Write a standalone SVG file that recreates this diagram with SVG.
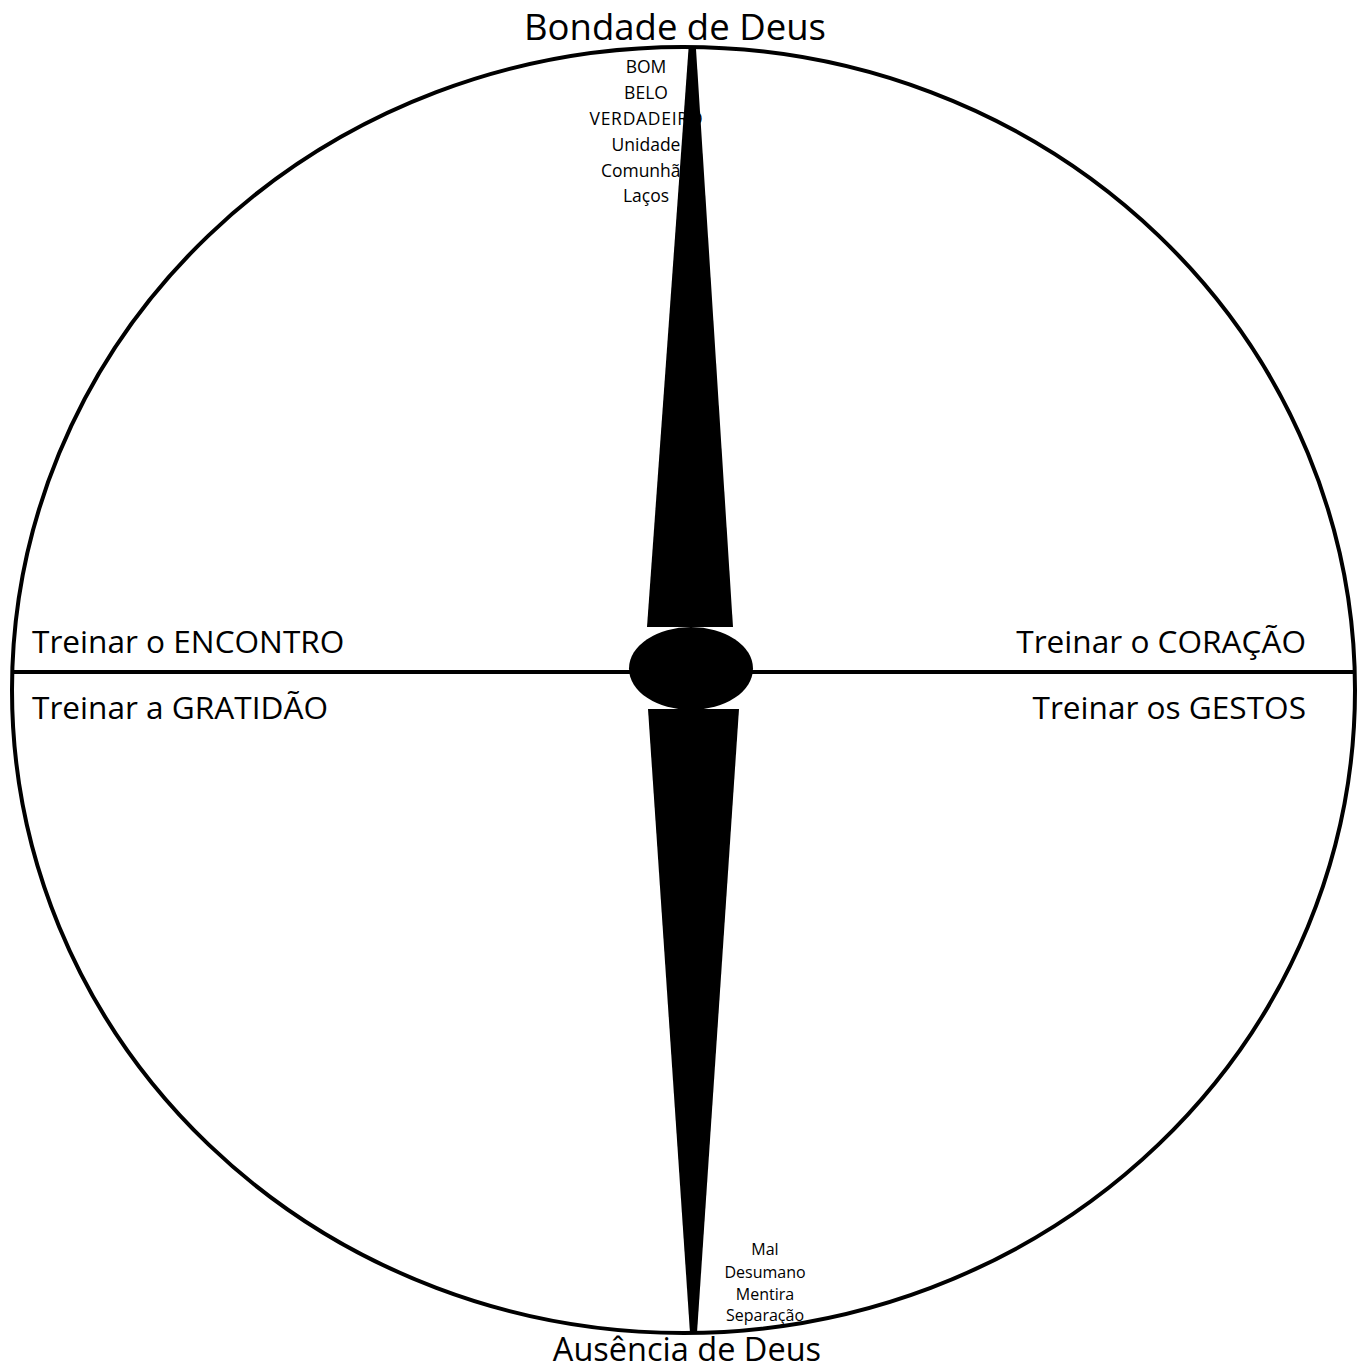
<svg xmlns="http://www.w3.org/2000/svg" width="1363" height="1369" viewBox="0 0 1363 1369">
<style>
text{font-family:"Open Sans","Noto Sans","Liberation Sans",sans-serif;fill:#000}
.mid{font-size:31.6px}
.sm{font-size:17.5px;text-anchor:middle}
.xs{font-size:16px;text-anchor:middle}
.ln{fill:none;stroke:#000;stroke-width:4}
</style>
<rect width="1363" height="1369" fill="#fff"/>
<g id="top-labels">
<text class="sm" x="646" y="73">BOM</text>
<text class="sm" x="646" y="99">BELO</text>
<text class="sm" x="646" y="125" textLength="113" lengthAdjust="spacing">VERDADEIRO</text>
<text class="sm" x="646" y="151">Unidade</text>
<text class="sm" x="646" y="177">Comunhão</text>
<text class="sm" x="646" y="202">Laços</text>
</g>
<g id="bottom-labels">
<text class="xs" x="765" y="1255">Mal</text>
<text class="xs" x="765" y="1278">Desumano</text>
<text class="xs" x="765" y="1300">Mentira</text>
<text class="xs" x="765" y="1321">Separação</text>
</g>
<g id="connectors">
<ellipse class="ln" cx="683.5" cy="690" rx="671.5" ry="643"/>
<line class="ln" x1="12" y1="672" x2="1355" y2="672"/>
</g>
<g id="needle">
<polygon points="688.5,49 696,49 733,627 647,627" fill="#000"/>
<polygon points="648,709 739,709 697,1333 690,1333" fill="#000"/>
<ellipse cx="691" cy="668.5" rx="62" ry="41.5" fill="#000"/>
</g>
<g id="title-top"><text x="675" y="40" text-anchor="middle" font-size="36.5">Bondade de Deus</text></g>
<g id="title-bottom"><text x="687" y="1361" text-anchor="middle" font-size="32.5">Ausência de Deus</text></g>
<g id="q-encontro"><text class="mid" x="32" y="653">Treinar o ENCONTRO</text></g>
<g id="q-gratidao"><text class="mid" x="32" y="719">Treinar a GRATIDÃO</text></g>
<g id="q-coracao"><text class="mid" x="1306" y="653" text-anchor="end">Treinar o CORAÇÃO</text></g>
<g id="q-gestos"><text class="mid" x="1306" y="719" text-anchor="end">Treinar os GESTOS</text></g>
</svg>
